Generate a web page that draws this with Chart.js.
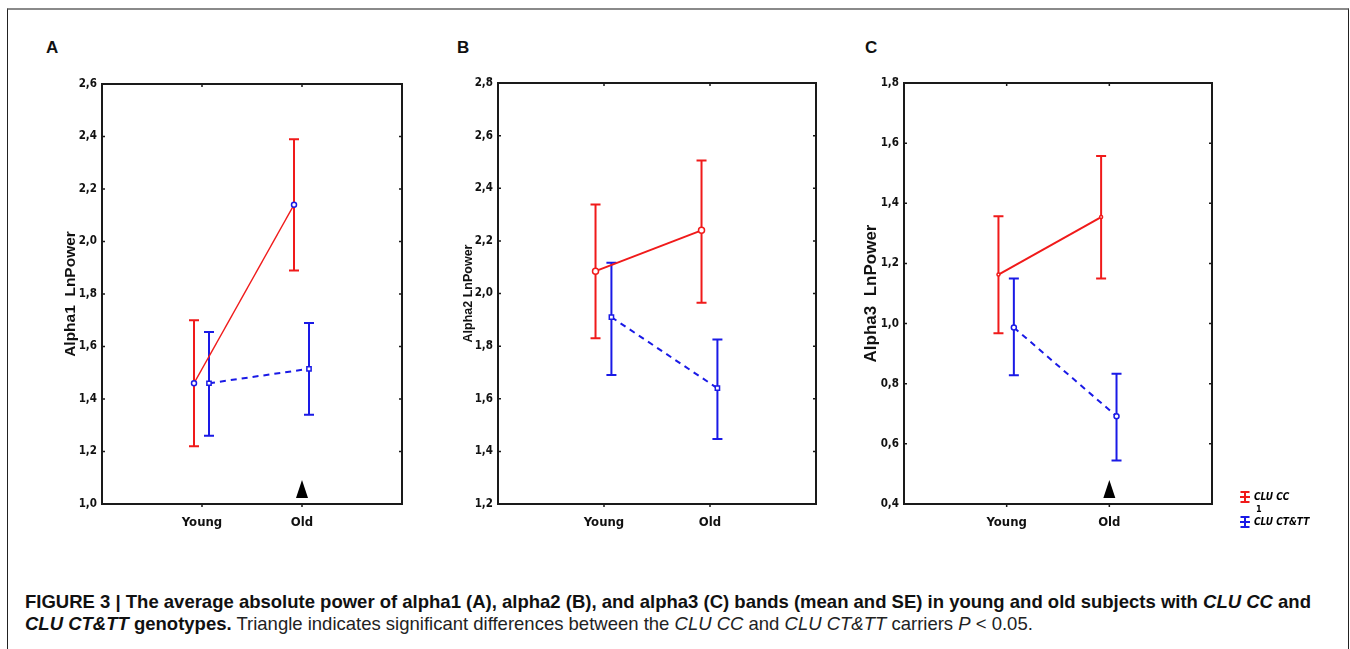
<!DOCTYPE html>
<html>
<head>
<meta charset="utf-8">
<script src="https://cdn.jsdelivr.net/npm/chart.js@4.4.1/dist/chart.umd.min.js"></script>
<style>
  body { margin: 0; background: #fff; width: 1350px; height: 649px; overflow: hidden; position: relative; font-family: "Liberation Sans", Arial, sans-serif; }
  .frame { position: absolute; left: 7px; top: 8px; width: 1340px; height: 700px; border-top: 2px solid #8a8a8a; border-left: 1px solid #222; border-right: 1px solid #222; }
  .box { position: absolute; }
  .letter { position: absolute; top: 38px; font-weight: bold; font-size: 17px; color: #111; }
  .caption { position: absolute; left: 25px; top: 591px; font-size: 18.5px; line-height: 22px; color: #222; white-space: nowrap; }
  .caption b { color: #111; }
</style>
</head>
<body>
<div class="frame"></div>
<div class="letter" style="left:46px">A</div>
<div class="letter" style="left:457px">B</div>
<div class="letter" style="left:865px">C</div>

<div class="box" style="left:40px;top:60px;width:380px;height:490px"><canvas id="chartA"></canvas></div>
<div class="box" style="left:436px;top:60px;width:400px;height:490px"><canvas id="chartB"></canvas></div>
<div class="box" style="left:842px;top:60px;width:500px;height:490px"><canvas id="chartC"></canvas></div>

<div class="caption">
  <b>FIGURE 3 | The average absolute power of alpha1 (A), alpha2 (B), and alpha3 (C) bands (mean and SE) in young and old subjects with <i>CLU CC</i> and</b><br>
  <b><i>CLU CT&amp;TT</i> genotypes.</b> Triangle indicates significant differences between the <i>CLU CC</i> and <i>CLU CT&amp;TT</i> carriers <i>P</i> &lt; 0.05.
</div>

<script>
// categories
const categories = ["Young", "Old"];
const seriesNames = ["CLU CC", "CLU CT&TT"];

// Alpha1 (A)
const ccMeanA = [1.46, 2.14];
const ccLowA  = [1.22, 1.89];
const ccHighA = [1.70, 2.39];
const ctMeanA = [1.46, 1.515];
const ctLowA  = [1.26, 1.34];
const ctHighA = [1.655, 1.69];
const sigA = [false, true];

// Alpha2 (B)
const ccMeanB = [2.085, 2.24];
const ccLowB  = [1.83, 1.965];
const ccHighB = [2.338, 2.505];
const ctMeanB = [1.91, 1.64];
const ctLowB  = [1.69, 1.447];
const ctHighB = [2.117, 1.825];
const sigB = [false, false];

// Alpha3 (C)
const ccMeanC = [1.163, 1.354];
const ccLowC  = [0.968, 1.15];
const ccHighC = [1.357, 1.557];
const ctMeanC = [0.987, 0.692];
const ctLowC  = [0.828, 0.545];
const ctHighC = [1.15, 0.833];
const sigC = [false, true];

const RED = "#f01a1a";
const BLUE = "#1a1ae6";
const narrow = "'Liberation Sans Narrow', 'Arial Narrow', 'DejaVu Sans Condensed', sans-serif";
const tickFont = { family: narrow, weight: "bold", size: 11.5 };
const catFont = { family: narrow, weight: "bold", size: 13 };

// x offset so the two groups don't overlap
const ccShift = -0.08, ctShift = 0.07;

function pts(vals, shift) {
  return vals.map((v, i) => ({ x: i + 1 + shift, y: v }));
}

// error bars, frame, inner ticks, triangle and legend
const extras = {
  id: "extras",
  beforeDatasetsDraw(chart) {
    const ctx = chart.ctx, xs = chart.scales.x, ys = chart.scales.y;
    chart.data.datasets.forEach(ds => {
      if (!ds.errLow) return;
      ctx.save();
      ctx.strokeStyle = ds.borderColor;
      ctx.lineWidth = 2;
      ds.data.forEach((p, i) => {
        const x = xs.getPixelForValue(p.x);
        const y1 = ys.getPixelForValue(ds.errLow[i]);
        const y2 = ys.getPixelForValue(ds.errHigh[i]);
        ctx.beginPath();
        ctx.moveTo(x, y1); ctx.lineTo(x, y2);
        ctx.moveTo(x - 5, y1); ctx.lineTo(x + 5, y1);
        ctx.moveTo(x - 5, y2); ctx.lineTo(x + 5, y2);
        ctx.stroke();
      });
      ctx.restore();
    });
  },
  afterDraw(chart, args, opts) {
    const ctx = chart.ctx, a = chart.chartArea, xs = chart.scales.x, ys = chart.scales.y;
    ctx.save();
    ctx.strokeStyle = "#1a1a1a";
    ctx.lineWidth = 2;
    ctx.strokeRect(a.left, a.top, a.right - a.left, a.bottom - a.top);
    ctx.lineWidth = 1.5;
    ctx.beginPath();
    ys.ticks.forEach(t => {
      const y = ys.getPixelForValue(t.value);
      ctx.moveTo(a.left, y); ctx.lineTo(a.left + 3, y);
      ctx.moveTo(a.right, y); ctx.lineTo(a.right - 3, y);
    });
    xs.ticks.forEach(t => {
      const x = xs.getPixelForValue(t.value);
      ctx.moveTo(x, a.top); ctx.lineTo(x, a.top + 3);
      ctx.moveTo(x, a.bottom); ctx.lineTo(x, a.bottom + 3);
    });
    ctx.stroke();
    // significance triangles
    (opts.sig || []).forEach((s, i) => {
      if (!s) return;
      const x = xs.getPixelForValue(i + 1);
      ctx.fillStyle = "#000";
      ctx.beginPath();
      ctx.moveTo(x, a.bottom - 24);
      ctx.lineTo(x + 6, a.bottom - 6);
      ctx.lineTo(x - 6, a.bottom - 6);
      ctx.closePath();
      ctx.fill();
    });
    // legend (panel C only)
    if (opts.legend) {
      const lx = a.right + 33, ly = [a.bottom - 7, a.bottom + 18];
      ctx.fillStyle = "#000";
      ctx.textBaseline = "middle";
      chart.data.datasets.slice(0, 2).forEach((ds, i) => {
        const y = ly[i];
        ctx.strokeStyle = ds.borderColor;
        ctx.lineWidth = 2;
        ctx.beginPath();
        ctx.moveTo(lx - 4.5, y - 5); ctx.lineTo(lx + 4.5, y - 5);
        ctx.moveTo(lx - 4.5, y + 5); ctx.lineTo(lx + 4.5, y + 5);
        ctx.moveTo(lx, y - 5); ctx.lineTo(lx, y + 5);
        ctx.moveTo(lx - 5, y); ctx.lineTo(lx + 5, y);
        ctx.stroke();
        ctx.font = "italic bold 10px " + narrow;
        ctx.fillText(seriesNames[i], lx + 9, y);
      });
      ctx.font = "bold 9px " + narrow;
      ctx.fillText("1", lx + 11, a.bottom + 6);
    }
    ctx.restore();
  }
};

function makePanel(id, cfg) {
  const datasets = [
    {
      label: seriesNames[0],
      data: pts(cfg.ccMean, ccShift),
      errLow: cfg.ccLow, errHigh: cfg.ccHigh,
      borderColor: RED, borderWidth: cfg.ccWidth,
      pointStyle: "circle", pointRadius: cfg.ccRadius,
      pointBorderColor: cfg.ccMarker, pointBackgroundColor: "#fff", pointBorderWidth: 1.5
    },
    {
      label: seriesNames[1],
      data: pts(cfg.ctMean, ctShift),
      errLow: cfg.ctLow, errHigh: cfg.ctHigh,
      borderColor: BLUE, borderWidth: 2, borderDash: [6, 5],
      pointStyle: cfg.ctStyle, pointRadius: cfg.ctRadius,
      pointBorderColor: BLUE, pointBackgroundColor: "#fff", pointBorderWidth: 1.5
    }
  ];
  return new Chart(document.getElementById(id), {
    type: "line",
    data: { datasets },
    plugins: [extras],
    options: {
      responsive: true,
      maintainAspectRatio: false,
      animation: false,
      layout: { padding: cfg.padding },
      plugins: {
        legend: { display: false },
        tooltip: { enabled: false },
        extras: { sig: cfg.sig, legend: cfg.legend }
      },
      scales: {
        x: {
          type: "linear", min: 0, max: 3,
          afterBuildTicks: s => { s.ticks = categories.map((c, i) => ({ value: i + 1 })); },
          afterFit: s => { s.height = 36; },
          grid: { display: false, drawTicks: false },
          border: { display: false },
          ticks: { callback: v => categories[v - 1], font: catFont, color: "#111", padding: 11, maxRotation: 0 }
        },
        y: {
          min: cfg.yMin, max: cfg.yMax,
          afterFit: s => { s.width = 62; },
          grid: { display: false, drawTicks: false },
          border: { display: false },
          ticks: { stepSize: 0.2, font: tickFont, color: "#111", padding: 5,
                   callback: v => v.toFixed(1).replace(".", ",") },
          title: { display: true, text: cfg.title, color: "#111",
                   font: { family: "'Liberation Sans', Arial, sans-serif", weight: "bold", size: cfg.titleSize },
                   padding: { top: cfg.titleOffset, bottom: 0 } }
        }
      }
    }
  });
}

makePanel("chartA", {
  ccMean: ccMeanA, ccLow: ccLowA, ccHigh: ccHighA,
  ctMean: ctMeanA, ctLow: ctLowA, ctHigh: ctHighA,
  ccWidth: 1.5, ccRadius: 2.5, ccMarker: BLUE, ctStyle: "rect", ctRadius: 3,
  yMin: 1.0, yMax: 2.6, title: "Alpha1  LnPower", titleSize: 15.5, titleOffset: 21,
  padding: { top: 24, right: 18, bottom: 10, left: 0 }, sig: sigA
});

makePanel("chartB", {
  ccMean: ccMeanB, ccLow: ccLowB, ccHigh: ccHighB,
  ctMean: ctMeanB, ctLow: ctLowB, ctHigh: ctHighB,
  ccWidth: 2, ccRadius: 3, ccMarker: RED, ctStyle: "rect", ctRadius: 3,
  yMin: 1.2, yMax: 2.8, title: "Alpha2 LnPower", titleSize: 12.5, titleOffset: 25,
  padding: { top: 23, right: 20, bottom: 10, left: 0 }, sig: sigB
});

makePanel("chartC", {
  ccMean: ccMeanC, ccLow: ccLowC, ccHigh: ccHighC,
  ctMean: ctMeanC, ctLow: ctLowC, ctHigh: ctHighC,
  ccWidth: 2, ccRadius: 1.5, ccMarker: RED, ctStyle: "circle", ctRadius: 2.5,
  yMin: 0.4, yMax: 1.8, title: "Alpha3  LnPower", titleSize: 17, titleOffset: 19,
  padding: { top: 23, right: 130, bottom: 10, left: 0 }, sig: sigC, legend: true
});
</script>
</body>
</html>
